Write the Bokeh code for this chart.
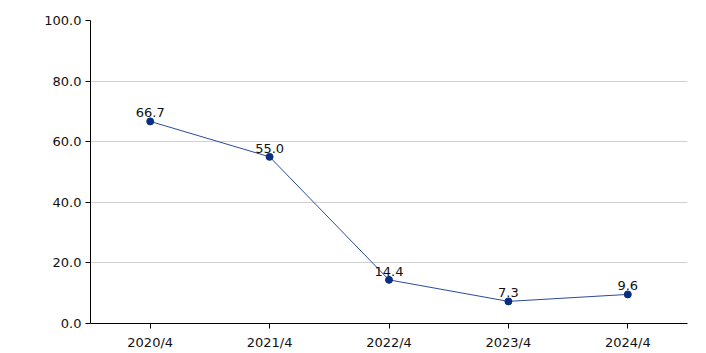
from bokeh.plotting import figure
from bokeh.models import ColumnDataSource, NumeralTickFormatter, FixedTicker, Range1d, LabelSet
from bokeh.core.properties import value
from bokeh.embed import file_html
from bokeh.resources import INLINE

categories = ["2020/4", "2021/4", "2022/4", "2023/4", "2024/4"]
values = [66.7, 55.0, 14.4, 7.3, 9.6]
labels = ["66.7", "55.0", "14.4", "7.3", "9.6"]
y_ticks = [0, 20, 40, 60, 80, 100]

src = ColumnDataSource(dict(x=categories, y=values, lab=labels))

p = figure(x_range=categories, y_range=Range1d(0, 100), width=700, height=352,
           output_backend="svg", toolbar_location=None,
           min_border_left=90, min_border_right=13, min_border_top=20, min_border_bottom=29)
p.outline_line_color = None
p.xgrid.grid_line_color = None
p.ygrid.grid_line_color = "#d0d0d0"
p.ygrid.grid_line_width = 1
p.yaxis.ticker = FixedTicker(ticks=y_ticks)
p.yaxis.formatter = NumeralTickFormatter(format="0.0")
for ax in (p.xaxis, p.yaxis):
    ax.axis_line_color = "#000000"
    ax.major_tick_line_color = "#000000"
    ax.major_tick_out = 5
    ax.major_tick_in = 0
    ax.minor_tick_line_color = None
    ax.major_label_text_font = "DejaVu Sans"
    ax.major_label_text_font_size = "13px"
    ax.major_label_text_color = "#111111"
p.xaxis.major_label_standoff = 6
p.yaxis.major_label_standoff = 4
p.x_range.range_padding = 0

p.line("x", "y", source=src, line_color="#2a4a9a", line_width=1)
p.scatter("x", "y", source=src, size=7, fill_color="#0a2f80", line_color="#0a2f80")

ls = LabelSet(x="x", y="y", text="lab", source=src, text_align="center",
              text_baseline="bottom", y_offset=4, text_font=value("DejaVu Sans"),
              text_font_size="13px", text_color="#111111")
p.add_layout(ls)

open("out.html", "w").write(file_html(p, INLINE))
